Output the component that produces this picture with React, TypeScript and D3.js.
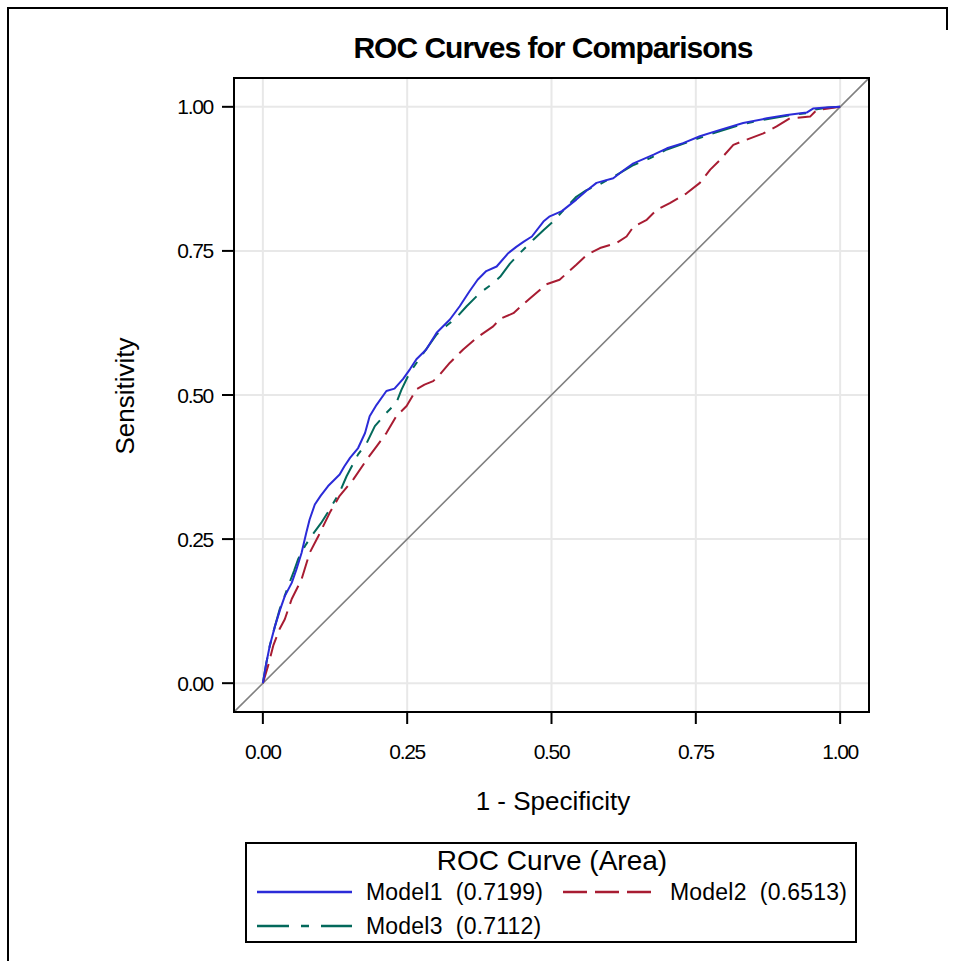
import * as d3 from 'd3'

// ROC points [1 - specificity, sensitivity]
const model1Points: [number, number][] = [
  [0, 0], [0.006, 0.035], [0.012, 0.065], [0.021, 0.099], [0.03, 0.128], [0.038, 0.151], [0.05, 0.174],
  [0.058, 0.197], [0.067, 0.226], [0.075, 0.26], [0.081, 0.284], [0.09, 0.31], [0.1, 0.325], [0.113, 0.342],
  [0.123, 0.352], [0.133, 0.362], [0.141, 0.376], [0.151, 0.391], [0.165, 0.408], [0.177, 0.434], [0.185, 0.463],
  [0.197, 0.483], [0.214, 0.507], [0.228, 0.511], [0.243, 0.528], [0.255, 0.545], [0.266, 0.562], [0.283, 0.579],
  [0.301, 0.608], [0.324, 0.631], [0.341, 0.654], [0.358, 0.68], [0.372, 0.7], [0.387, 0.715], [0.405, 0.723],
  [0.425, 0.746], [0.439, 0.757], [0.452, 0.766], [0.466, 0.775], [0.486, 0.801], [0.497, 0.81], [0.518, 0.819],
  [0.543, 0.839], [0.56, 0.854], [0.578, 0.868], [0.607, 0.876], [0.625, 0.89], [0.642, 0.902], [0.677, 0.917],
  [0.7, 0.928], [0.728, 0.937], [0.757, 0.949], [0.792, 0.96], [0.832, 0.972], [0.873, 0.98], [0.908, 0.986],
  [0.942, 0.99], [0.953, 0.997], [0.975, 0.999], [1, 1],
]

const model2Points: [number, number][] = [
  [0, 0], [0.009, 0.03], [0.018, 0.065], [0.029, 0.094], [0.038, 0.111], [0.05, 0.146], [0.058, 0.162],
  [0.067, 0.18], [0.081, 0.226], [0.096, 0.255], [0.116, 0.296], [0.133, 0.325], [0.157, 0.354], [0.18, 0.388],
  [0.197, 0.411], [0.214, 0.434], [0.231, 0.463], [0.249, 0.481], [0.266, 0.51], [0.28, 0.518], [0.295, 0.524],
  [0.307, 0.536], [0.324, 0.556], [0.347, 0.579], [0.37, 0.599], [0.399, 0.619], [0.411, 0.632], [0.434, 0.642],
  [0.462, 0.667], [0.491, 0.692], [0.514, 0.7], [0.543, 0.726], [0.561, 0.743], [0.584, 0.755], [0.613, 0.764],
  [0.63, 0.775], [0.642, 0.792], [0.665, 0.804], [0.682, 0.821], [0.705, 0.833], [0.734, 0.85], [0.757, 0.868],
  [0.775, 0.891], [0.792, 0.908], [0.815, 0.934], [0.838, 0.943], [0.867, 0.954], [0.89, 0.966], [0.913, 0.98],
  [0.948, 0.983], [0.959, 0.994], [0.985, 0.998], [1, 1],
]

const model3Points: [number, number][] = [
  [0, 0], [0.006, 0.035], [0.012, 0.065], [0.021, 0.099], [0.029, 0.128], [0.038, 0.152], [0.046, 0.174],
  [0.054, 0.195], [0.061, 0.215], [0.073, 0.238], [0.084, 0.255], [0.101, 0.278], [0.116, 0.302], [0.133, 0.331],
  [0.145, 0.359], [0.155, 0.378], [0.165, 0.397], [0.18, 0.417], [0.194, 0.446], [0.214, 0.469], [0.231, 0.486],
  [0.24, 0.509], [0.254, 0.538], [0.272, 0.564], [0.301, 0.605], [0.318, 0.62], [0.335, 0.634], [0.353, 0.654],
  [0.376, 0.677], [0.399, 0.694], [0.411, 0.705], [0.428, 0.728], [0.445, 0.746], [0.468, 0.769], [0.486, 0.786],
  [0.503, 0.801], [0.521, 0.821], [0.543, 0.844], [0.56, 0.855], [0.584, 0.866], [0.61, 0.88], [0.64, 0.898],
  [0.671, 0.911], [0.7, 0.926], [0.734, 0.938], [0.78, 0.954], [0.827, 0.969], [0.87, 0.978], [0.91, 0.985],
  [0.942, 0.989], [0.955, 0.995], [0.98, 0.999], [1, 1],
]

const tickValues = [0, 0.25, 0.5, 0.75, 1]
const modelNames = ['Model1', 'Model2', 'Model3']
const modelAreas = ['0.7199', '0.6513', '0.7112']

const W = 955
const H = 961
const LEFT = 234, RIGHT = 869, TOP = 78, BOTTOM = 712
const FONT = '"Liberation Sans", Arial, sans-serif'

const series = [
  { pts: model1Points, color: '#2B2BD8', dash: 'none', legendDash: 'none' },
  { pts: model2Points, color: '#A81C32', dash: '20,8', legendDash: '24,8' },
  { pts: model3Points, color: '#03695B', dash: '26,10,7,10', legendDash: '32,12,8,12' },
]

export default function App() {
  const x = d3.scaleLinear().domain([-0.05, 1.05]).range([LEFT, RIGHT])
  const y = d3.scaleLinear().domain([-0.05, 1.05]).range([BOTTOM, TOP])
  const line = d3.line<[number, number]>().x(d => x(d[0])).y(d => y(d[1]))
  const fmt = d3.format('.2f')

  // legend layout
  const lg = { x0: 246, x1: 856, y0: 843, y1: 942 }
  const entries = [
    { lx: 257, ty: 892, tx: 366 },
    { lx: 563, ty: 892, tx: 670 },
    { lx: 257, ty: 926, tx: 366 },
  ]

  return (
    <svg width={W} height={H} style={{ position: 'absolute', left: 0, top: 0, background: '#fff' }}
      fontFamily={FONT}>
      <rect x={0} y={0} width={W} height={H} fill="#fff" />
      {/* outer frame, cut at the bottom */}
      <path d={`M8,${H} V8 H947 V30`} fill="none" stroke="#000" strokeWidth={2} />

      <text x={553} y={58} textAnchor="middle" fontSize={30} fontWeight="bold" letterSpacing={-1}>
        ROC Curves for Comparisons
      </text>

      <defs>
        <clipPath id="plotclip">
          <rect x={LEFT} y={TOP} width={RIGHT - LEFT} height={BOTTOM - TOP} />
        </clipPath>
      </defs>

      {/* grid */}
      <g stroke="#E8E8E8" strokeWidth={2}>
        {tickValues.map(t => (
          <line key={'gx' + t} x1={x(t)} x2={x(t)} y1={TOP} y2={BOTTOM} />
        ))}
        {tickValues.map(t => (
          <line key={'gy' + t} x1={LEFT} x2={RIGHT} y1={y(t)} y2={y(t)} />
        ))}
      </g>

      <g clipPath="url(#plotclip)">
        <line x1={x(-0.05)} y1={y(-0.05)} x2={x(1.05)} y2={y(1.05)} stroke="#808080" strokeWidth={1.6} />
        {series.slice().reverse().map((s, i) => (
          <path key={i} d={line(s.pts) || ''} fill="none" stroke={s.color} strokeWidth={2}
            strokeDasharray={s.dash} strokeLinejoin="round" />
        ))}
      </g>

      <rect x={LEFT} y={TOP} width={RIGHT - LEFT} height={BOTTOM - TOP} fill="none" stroke="#000" strokeWidth={2} />

      {/* x axis */}
      <g>
        {tickValues.map(t => (
          <g key={'xt' + t}>
            <line x1={x(t)} x2={x(t)} y1={BOTTOM} y2={BOTTOM + 12} stroke="#000" strokeWidth={2} />
            <text x={x(t)} y={759} textAnchor="middle" fontSize={21} letterSpacing={-1.3}>{fmt(t)}</text>
          </g>
        ))}
        <text x={553} y={810} textAnchor="middle" fontSize={26}>1 - Specificity</text>
      </g>

      {/* y axis */}
      <g>
        {tickValues.map(t => (
          <g key={'yt' + t}>
            <line x1={LEFT - 12} x2={LEFT} y1={y(t)} y2={y(t)} stroke="#000" strokeWidth={2} />
            <text x={213} y={y(t) + 7.5} textAnchor="end" fontSize={21} letterSpacing={-1.3}>{fmt(t)}</text>
          </g>
        ))}
        <text transform="translate(134,396) rotate(-90)" textAnchor="middle" fontSize={26}>
          Sensitivity
        </text>
      </g>

      {/* legend */}
      <rect x={lg.x0} y={lg.y0} width={lg.x1 - lg.x0} height={lg.y1 - lg.y0} fill="none" stroke="#000" strokeWidth={2} />
      <text x={552} y={870} textAnchor="middle" fontSize={28}>ROC Curve (Area)</text>
      {series.map((s, i) => (
        <g key={'lg' + i}>
          <line x1={entries[i].lx} x2={entries[i].lx + 95} y1={entries[i].ty} y2={entries[i].ty}
            stroke={s.color} strokeWidth={2.5} strokeDasharray={s.legendDash} />
          <text x={entries[i].tx} y={entries[i].ty + 8} fontSize={23} letterSpacing={0.2}>
            {modelNames[i]}{'\u00a0\u00a0'}({modelAreas[i]})
          </text>
        </g>
      ))}
    </svg>
  )
}
